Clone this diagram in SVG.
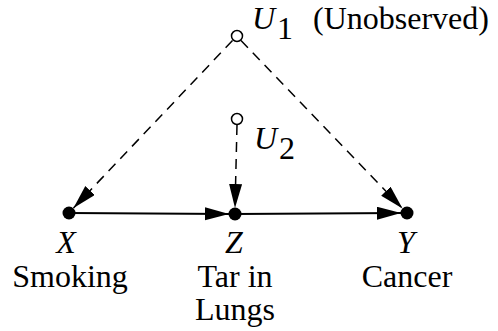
<svg xmlns="http://www.w3.org/2000/svg" width="498" height="331" viewBox="0 0 498 331">
<style>
text{font-family:"Liberation Serif","Times New Roman",serif;font-size:32px;fill:#000}
.i{font-style:italic}
.m{text-anchor:middle}
.dash{stroke:#000;stroke-width:1.5;fill:none;stroke-dasharray:10 7}
.solid{stroke:#000;stroke-width:2;fill:none}
.open{fill:#fff;stroke:#000;stroke-width:1.5}
.dot{fill:#000}
</style>
<defs>
<marker id="ah" markerUnits="userSpaceOnUse" markerWidth="25" markerHeight="14" refX="24" refY="6.5" orient="auto">
<path d="M0,0 L24,6.5 L0,13 z" fill="#000"/>
</marker>
</defs>
<rect width="498" height="331" fill="#fff"/>
<g id="connectors">
<line class="dash" x1="232.5" y1="40.5" x2="73.5" y2="208" marker-end="url(#ah)"/>
<line class="dash" x1="241" y1="40.5" x2="402.5" y2="208.5" marker-end="url(#ah)"/>
<line class="dash" x1="237" y1="125" x2="235" y2="208" marker-end="url(#ah)"/>
<line class="solid" x1="69" y1="213" x2="229" y2="214" marker-end="url(#ah)"/>
<line class="solid" x1="235" y1="214" x2="401" y2="213" marker-end="url(#ah)"/>
</g>
<g id="U1">
<circle class="open" cx="237" cy="36" r="5.5"/>
<text class="i" x="252" y="29">U</text>
<text x="277" y="39">1</text>
<text x="313" y="29">(Unobserved)</text>
</g>
<g id="U2">
<circle class="open" cx="237" cy="119" r="5.5"/>
<text class="i" x="254" y="149">U</text>
<text x="279" y="159">2</text>
</g>
<g id="X">
<circle class="dot" cx="69" cy="213" r="6.5"/>
<text class="i m" x="66" y="253">X</text>
<text class="m" x="70" y="287">Smoking</text>
</g>
<g id="Z">
<circle class="dot" cx="235" cy="214" r="6.5"/>
<text class="i m" x="234" y="253">Z</text>
<text class="m" x="235" y="287">Tar in</text>
<text class="m" x="235" y="320">Lungs</text>
</g>
<g id="Y">
<circle class="dot" cx="407" cy="213" r="6.5"/>
<text class="i m" x="406" y="253">Y</text>
<text class="m" x="407" y="287">Cancer</text>
</g>
</svg>
